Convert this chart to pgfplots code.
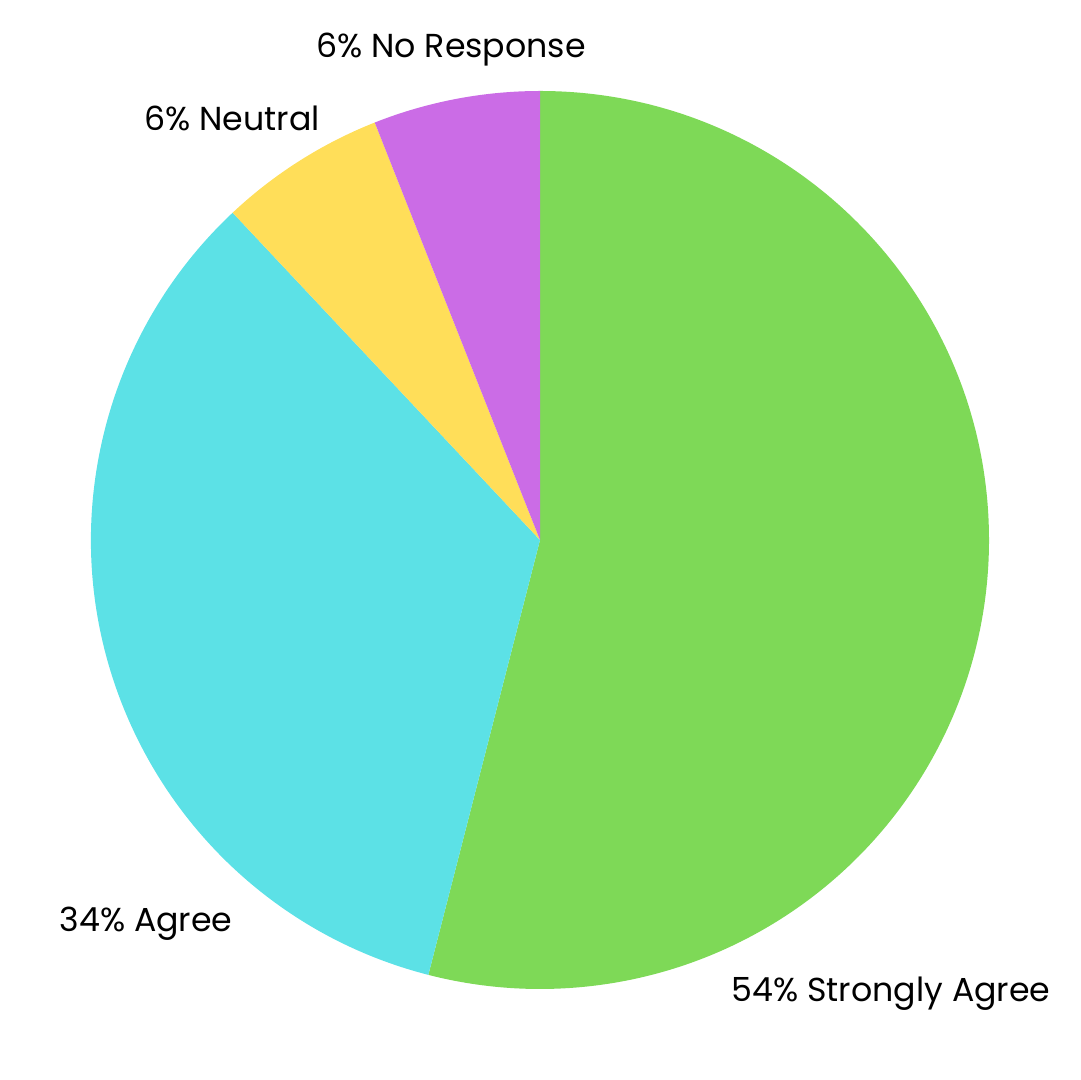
\documentclass[border=0pt]{standalone}
\usepackage{pgfplots}
\pgfplotsset{compat=1.18}
\usepackage{fontspec}
\setmainfont{Poppins}
\definecolor{sagree}{HTML}{7ED957}
\definecolor{agree}{HTML}{5CE1E6}
\definecolor{neutral}{HTML}{FFDE59}
\definecolor{noresp}{HTML}{CB6CE6}
% values (percent)
\def\vSA{54}
\def\vA{34}
\def\vN{6}
\def\vNR{6}
\begin{document}
\begin{tikzpicture}
\begin{axis}[
  x=0.5pt, y=0.5pt,
  xmin=-540, xmax=540, ymin=-540, ymax=540,
  hide axis, clip=false,
]
\path (axis cs:-540,-540) rectangle (axis cs:540,540);
\pgfmathsetmacro{\aA}{90}
\pgfmathsetmacro{\aB}{90-\vSA*3.6}
\pgfmathsetmacro{\aC}{\aB-\vA*3.6}
\pgfmathsetmacro{\aD}{\aC-\vN*3.6}
\pgfmathsetmacro{\aE}{\aD-\vNR*3.6}
\fill[sagree] (axis cs:0,0) -- (axis cs:{449*cos(\aA)},{449*sin(\aA)}) arc[start angle=\aA, end angle=\aB, radius=224.5pt] -- cycle;
\fill[agree] (axis cs:0,0) -- (axis cs:{449*cos(\aB)},{449*sin(\aB)}) arc[start angle=\aB, end angle=\aC, radius=224.5pt] -- cycle;
\fill[neutral] (axis cs:0,0) -- (axis cs:{449*cos(\aC)},{449*sin(\aC)}) arc[start angle=\aC, end angle=\aD, radius=224.5pt] -- cycle;
\fill[noresp] (axis cs:0,0) -- (axis cs:{449*cos(\aD)},{449*sin(\aD)}) arc[start angle=\aD, end angle=\aE, radius=224.5pt] -- cycle;
\node[anchor=base, font=\fontsize{16.6}{20}\selectfont] at (axis cs:-89,482) {6\% No Response};
\node[anchor=base, font=\fontsize{16.6}{20}\selectfont] at (axis cs:-308,409) {6\% Neutral};
\node[anchor=base, font=\fontsize{16.6}{20}\selectfont] at (axis cs:-394,-392) {34\% Agree};
\node[anchor=base, font=\fontsize{16.6}{20}\selectfont] at (axis cs:351,-462) {54\% Strongly Agree};
\end{axis}
\end{tikzpicture}
\end{document}
